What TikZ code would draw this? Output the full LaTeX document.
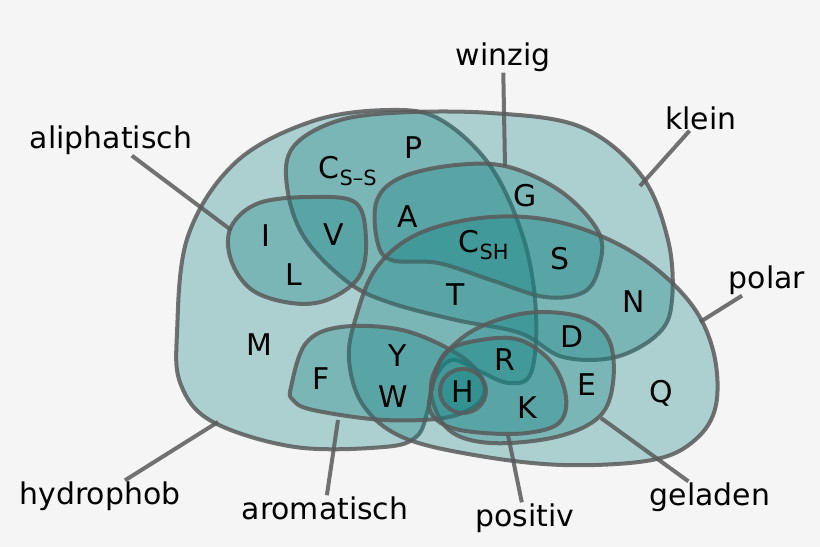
\documentclass[tikz,border=0pt]{standalone}
\usepackage{fontspec}
\setmainfont{DejaVu Sans}
\definecolor{bgc}{RGB}{245,245,245}
\definecolor{teal}{RGB}{20,130,130}
\definecolor{edge}{RGB}{90,90,90}
\tikzset{
  region/.style={fill=teal,fill opacity=0.32,draw=edge,draw opacity=0.85,line width=4bp},
  pointer/.style={draw=edge,draw opacity=0.85,line width=4bp},
  lbl/.style={font=\fontsize{30}{34}\selectfont,inner sep=1bp},
  aa/.style={font=\fontsize{30}{34}\selectfont,inner sep=0bp}
}
\begin{document}
\begin{tikzpicture}[x=1bp,y=-1bp]
\fill[bgc] (0,0) rectangle (820,547);
\useasboundingbox (0,0) rectangle (820,547);

% hydrophob
\path[region] plot[smooth cycle,tension=0.6] coordinates {(177,333) (188,236) (236,162) (313,121) (391,110) (441,120) (491,167) (524,240) (536,313) (531,373) (509,383) (481,372) (452,360) (434,380) (427,413) (416,437) (384,447) (295,447) (213,422) (181,385)};
% klein
\path[region] plot[smooth cycle,tension=0.6] coordinates {(291,150) (331,123) (391,113) (491,113) (581,127) (641,175) (668,240) (672,300) (659,333) (616,357) (563,357) (520,333) (456,320) (391,303) (349,283) (306,240) (288,193)};
% winzig
\path[region] plot[smooth cycle,tension=0.6] coordinates {(377,200) (402,177) (456,165) (509,167) (563,193) (599,233) (599,267) (584,292) (545,297) (491,280) (438,263) (391,260) (377,240)};
% aliphatisch
\path[region] plot[smooth cycle,tension=0.6] coordinates {(231,227) (259,203) (313,197) (356,203) (366,240) (359,277) (327,300) (291,303) (252,290) (231,260)};
% polar
\path[region] plot[smooth cycle,tension=0.6] coordinates {(356,317) (377,267) (420,233) (491,217) (563,223) (634,253) (688,300) (713,350) (716,405) (695,440) (652,460) (563,465) (474,455) (402,437) (363,405) (349,360)};
% aromatisch
\path[region] plot[smooth cycle,tension=0.6] coordinates {(291,387) (306,343) (341,327) (402,330) (456,353) (481,377) (481,400) (449,417) (384,420) (313,410) (293,400)};
% geladen
\path[region] plot[smooth cycle,tension=0.6] coordinates {(431,393) (441,360) (474,330) (527,313) (581,317) (609,340) (613,383) (599,417) (556,437) (491,443) (449,430)};
% positiv
\path[region] plot[smooth cycle,tension=0.6] coordinates {(431,393) (445,353) (481,340) (520,340) (552,363) (566,397) (559,423) (527,433) (484,433) (449,427) (431,413)};
% H
\path[region] (463,391) ellipse [x radius=23,y radius=22];

% labels
\node[lbl] (winzig) at (503,57) {winzig};
\node[lbl] (klein) at (701,118) {klein};
\node[lbl] (aliph) at (111,140) {aliphatisch};
\node[lbl] (polar) at (767,280) {polar};
\node[lbl] (hydro) at (100,496) {hydrophob};
\node[lbl] (arom) at (325,508) {aromatisch};
\node[lbl] (posit) at (525,518) {positiv};
\node[lbl] (gelad) at (710,497) {geladen};

\coordinate (winzigE) at (505,166);
\coordinate (kleinE) at (640,186);
\coordinate (aliphE) at (231,230);
\coordinate (polarE) at (700,322);
\coordinate (hydroE) at (218,422);
\coordinate (aromE) at (338,420);
\coordinate (positE) at (508,435);
\coordinate (geladE) at (601,418);

\draw[pointer] (winzig) -- (winzigE);
\draw[pointer] (klein) -- (kleinE);
\draw[pointer] (aliph) -- (aliphE);
\draw[pointer] (polar) -- (polarE);
\draw[pointer] (hydro) -- (hydroE);
\draw[pointer] (arom) -- (aromE);
\draw[pointer] (posit) -- (positE);
\draw[pointer] (gelad) -- (geladE);

% amino acids
\node[aa] (P) at (414,148) {P};
\node[aa] (Css) at (348,171) {C\textsubscript{S–S}};
\node[aa] (A) at (408,217) {A};
\node[aa] (G) at (525,196) {G};
\node[aa] (I) at (266,236) {I};
\node[aa] (V) at (334,235) {V};
\node[aa] (Csh) at (484,245) {C\textsubscript{SH}};
\node[aa] (S) at (560,259) {S};
\node[aa] (L) at (294,275) {L};
\node[aa] (T) at (456,295) {T};
\node[aa] (N) at (634,302) {N};
\node[aa] (D) at (572,337) {D};
\node[aa] (M) at (259,345) {M};
\node[aa] (Y) at (398,356) {Y};
\node[aa] (R) at (505,360) {R};
\node[aa] (F) at (321,379) {F};
\node[aa] (E) at (587,385) {E};
\node[aa] (Q) at (661,393) {Q};
\node[aa] (W) at (393,397) {W};
\node[aa] (H) at (463,392) {H};
\node[aa] (K) at (527,408) {K};
\end{tikzpicture}
\end{document}
